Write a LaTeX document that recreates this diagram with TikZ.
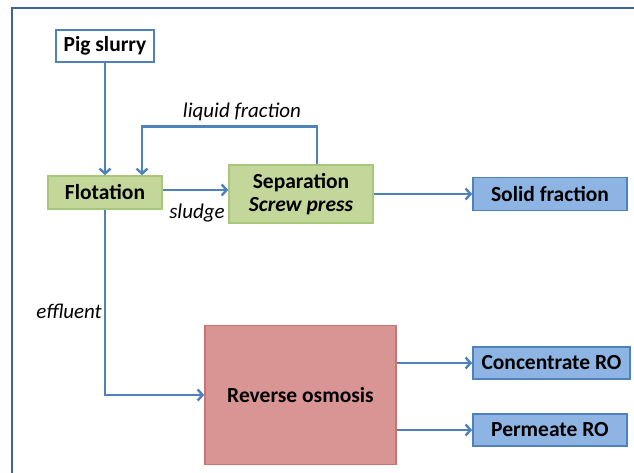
\documentclass[tikz,border=0pt]{standalone}
\usepackage{fontspec}
\setmainfont{Carlito}
\usetikzlibrary{arrows.meta}
\definecolor{frameblue}{HTML}{3F6399}
\definecolor{lineblue}{HTML}{4F81BD}
\definecolor{greenfill}{HTML}{C4D79B}
\definecolor{greenedge}{HTML}{A9C77A}
\definecolor{bluefill}{HTML}{8EB4E3}
\definecolor{blueedge}{HTML}{4F81BD}
\definecolor{redfill}{HTML}{D99594}
\definecolor{rededge}{HTML}{C87471}
\tikzset{
  boxbase/.style={font=\fontsize{21.5}{25}\selectfont\bfseries, inner sep=0pt, align=center},
  whitebox/.style={boxbase, draw=lineblue, line width=2pt, fill=white},
  greenbox/.style={boxbase, draw=greenedge, line width=1.5pt, fill=greenfill},
  bluebox/.style={boxbase, draw=blueedge, line width=1.6pt, fill=bluefill},
  redbox/.style={boxbase, draw=rededge, line width=1.5pt, fill=redfill},
  arr/.style={draw=lineblue, line width=2.6pt, -{Straight Barb[length=5pt,width=11pt,line width=2.4pt]}},
  lbl/.style={font=\fontsize{21}{25}\selectfont\itshape, inner sep=0pt},
  frame/.style={draw=frameblue, line width=2.4pt}
}
\begin{document}
\begin{tikzpicture}[x=1pt,y=-1pt]
\useasboundingbox (0,0) rectangle (634,473);
\draw[frame] (12,473) -- (12,8) -- (634,8);

\node[whitebox, minimum width=98pt, minimum height=32pt] (pig) at (105,46) {Pig slurry};
\node[greenbox, minimum width=114pt, minimum height=33pt] (flot) at (105,192.5) {Flotation};
\node[greenbox, minimum width=144pt, minimum height=58pt] (sep) at (301,194) {Separation\\[-2pt]\textit{Screw press}};
\node[bluebox, minimum width=154pt, minimum height=33pt] (solid) at (550,194) {Solid fraction};
\node[redbox, minimum width=191pt, minimum height=139pt] (ro) at (300.5,395) {Reverse osmosis};
\node[bluebox, minimum width=157pt, minimum height=32pt] (conc) at (551.5,363) {Concentrate RO};
\node[bluebox, minimum width=154pt, minimum height=32pt] (perm) at (550,430) {Permeate RO};

\node[lbl] (lliq) at (242,112) {liquid fraction};
\node[lbl] (lslu) at (197,213) {sludge};
\node[lbl] (leff) at (69,311) {effluent};

\draw[arr] (pig.south) -- (flot.north);
\draw[arr] ([xshift=16pt]sep.north) -- ++(0,-38) -| ([xshift=37pt]flot.north);
\draw[arr] ([yshift=2.5pt]flot.east) -- ([yshift=2.5pt]flot.east -| sep.west);
\draw[arr] (sep.east) -- (solid.west);
\draw[arr] (flot.south) |- (ro.west);
\draw[arr] (ro.east |- conc.west) -- (conc.west);
\draw[arr] (ro.east |- perm.west) -- (perm.west);
\end{tikzpicture}
\end{document}
